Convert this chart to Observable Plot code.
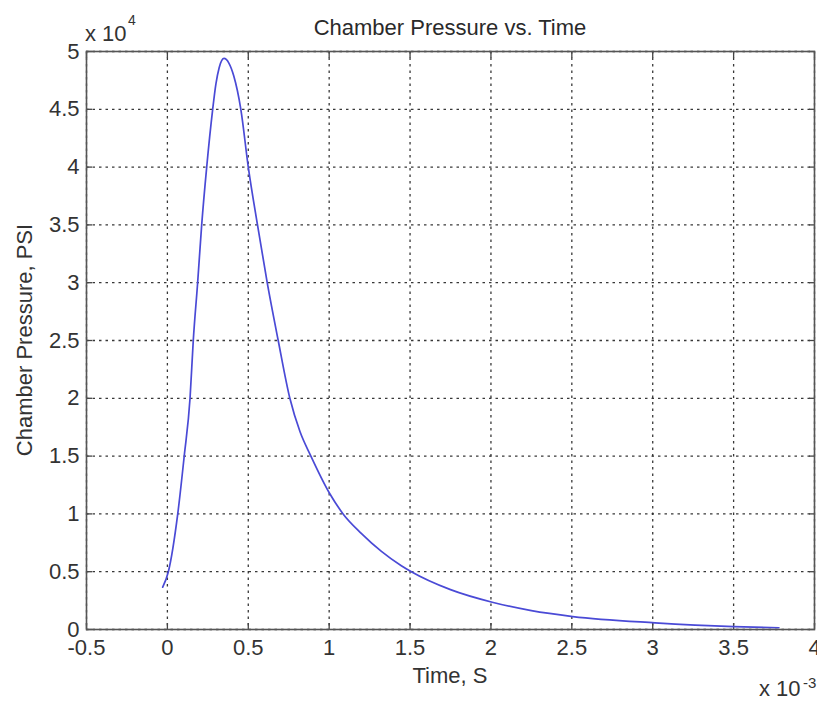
<!DOCTYPE html>
<html>
<head>
<meta charset="utf-8">
<script src="https://cdn.jsdelivr.net/npm/d3@7"></script>
<script src="https://cdn.jsdelivr.net/npm/@observablehq/plot@0.6"></script>
<style>
  html, body { margin: 0; padding: 0; background: #fff; }
</style>
</head>
<body>
<div id="chart"></div>
<script>
// Time in units of 10^-3 s, chamber pressure in units of 10^4 PSI (as on the axes)
const timeMs = [-0.029, 0.006, 0.064, 0.104, 0.14, 0.16, 0.187, 0.212, 0.243, 0.28, 0.30, 0.32, 0.35, 0.38, 0.41, 0.454, 0.50, 0.557, 0.617, 0.685, 0.757, 0.82, 0.887, 1.004, 1.086, 1.2, 1.323, 1.446, 1.508, 1.75, 2.008, 2.25, 2.506, 3.014, 3.5, 3.78];
const pressure = [0.366, 0.5, 1.0, 1.5, 2.0, 2.5, 3.0, 3.5, 4.0, 4.5, 4.72, 4.86, 4.94, 4.9, 4.79, 4.5, 4.0, 3.5, 3.0, 2.5, 2.0, 1.71, 1.5, 1.174, 1.0, 0.83, 0.676, 0.552, 0.5, 0.345, 0.236, 0.163, 0.112, 0.058, 0.025, 0.015];
const xTicks = [-0.5, 0, 0.5, 1, 1.5, 2, 2.5, 3, 3.5, 4];
const yTicks = [0, 0.5, 1, 1.5, 2, 2.5, 3, 3.5, 4, 4.5, 5];
const titleText = "Chamber Pressure vs. Time";
const xLabel = "Time, S";
const yLabel = "Chamber Pressure, PSI";

const data = timeMs.map((t, i) => ({t, p: pressure[i]}));

const fontFamily = "'Liberation Sans', Arial, sans-serif";
const gridStyle = {stroke: "#222", strokeOpacity: 0.9, strokeDasharray: "2.5,4", strokeWidth: 1.3};
const blank = () => "";

const chart = Plot.plot({
  width: 817,
  height: 702,
  marginLeft: 86,
  marginRight: 3,
  marginTop: 51,
  marginBottom: 73,
  style: {fontFamily, fontSize: "22px", color: "#333", background: "#fff", overflow: "visible"},
  x: {domain: [-0.5, 4]},
  y: {domain: [0, 5]},
  marks: [
    Plot.gridX(xTicks, gridStyle),
    Plot.gridY(yTicks, gridStyle),
    Plot.axisX(xTicks, {anchor: "bottom", tickSize: 0, tickPadding: 10, label: null, tickFormat: d => String(d), fill: "#333"}),
    Plot.axisY(yTicks, {anchor: "left", tickSize: 0, tickPadding: 7, label: null, tickFormat: d => String(d), fill: "#333"}),
    Plot.axisX(xTicks, {anchor: "bottom", tickSize: -6, label: null, tickFormat: blank, stroke: "#444", strokeWidth: 1.3}),
    Plot.axisX(xTicks, {anchor: "top", tickSize: -6, label: null, tickFormat: blank, stroke: "#444", strokeWidth: 1.3}),
    Plot.axisY(yTicks, {anchor: "left", tickSize: -6, label: null, tickFormat: blank, stroke: "#444", strokeWidth: 1.3}),
    Plot.axisY(yTicks, {anchor: "right", tickSize: -6, label: null, tickFormat: blank, stroke: "#444", strokeWidth: 1.3}),
    Plot.line(data, {x: "t", y: "p", stroke: "#4a4ad6", strokeWidth: 1.7, curve: "monotone-x"}),
    Plot.frame({stroke: "#555", strokeWidth: 1.6})
  ]
});

document.getElementById("chart").appendChild(chart);

// Annotations (title, axis labels, exponent multipliers)
const svg = d3.select(chart);
const g = svg.append("g").attr("font-family", fontFamily).attr("fill", "#333").attr("text-anchor", "start");
g.append("text").attr("x", 450).attr("y", 35).attr("text-anchor", "middle").attr("font-size", 22).attr("fill", "#2a2a2a").text(titleText);
g.append("text").attr("x", 450).attr("y", 683).attr("text-anchor", "middle").attr("font-size", 22).text(xLabel);
g.append("text").attr("transform", "translate(32,340) rotate(-90)").attr("text-anchor", "middle").attr("font-size", 22).text(yLabel);
// x 10^4 (top-left)
g.append("text").attr("x", 85).attr("y", 41).attr("text-anchor", "start").attr("font-size", 22).text("x 10");
g.append("text").attr("x", 128).attr("y", 25).attr("text-anchor", "start").attr("font-size", 14).text("4");
// x 10^-3 (bottom-right)
g.append("text").attr("x", 759).attr("y", 696).attr("text-anchor", "start").attr("font-size", 22).text("x 10");
g.append("text").attr("x", 803).attr("y", 688).attr("text-anchor", "start").attr("font-size", 15).text("-3");
</script>
</body>
</html>
